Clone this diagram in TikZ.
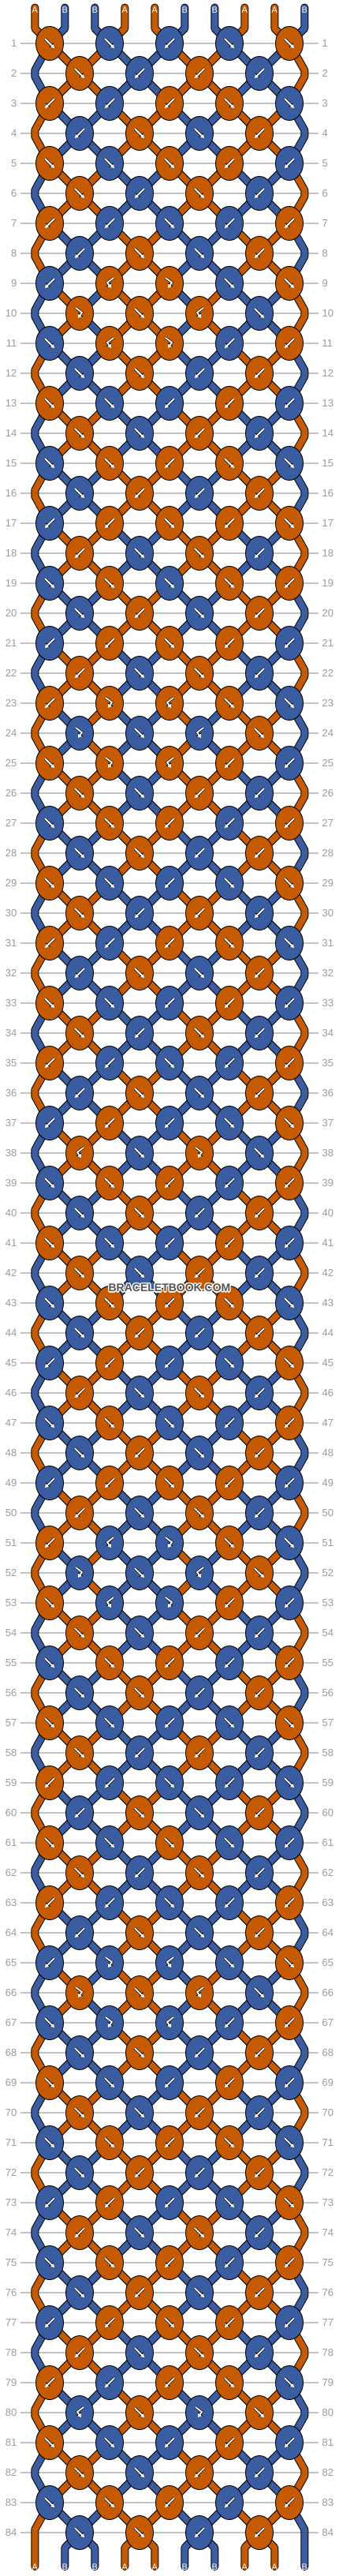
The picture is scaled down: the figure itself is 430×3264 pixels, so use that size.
\documentclass[tikz,border=0pt]{standalone}
\usepackage{fontspec}
\setmainfont{Liberation Sans}
\usetikzlibrary{arrows.meta,shapes.geometric}
\definecolor{cO}{RGB}{197,90,0}
\definecolor{cB}{RGB}{58,93,162}
\definecolor{rowgray}{RGB}{195,195,195}
\definecolor{labgray}{RGB}{155,155,155}
\definecolor{wmgray}{RGB}{85,85,85}
\newcommand\setsc[2]{\expandafter\xdef\csname sc#1\endcsname{#2}}
\newcommand\gsc[1]{\csname sc#1\endcsname}
\newcommand\drawstrand[2]{\draw[sout] #2;\draw[sin,draw=#1] #2;}
\setsc{0}{cO}\setsc{1}{cB}\setsc{2}{cB}\setsc{3}{cO}\setsc{4}{cO}\setsc{5}{cB}\setsc{6}{cB}\setsc{7}{cO}\setsc{8}{cO}\setsc{9}{cB}
\newcommand\rowdata{
1/{1,1,2,1,1},2/{1,2,2,2},3/{2,2,2,1,1},4/{2,1,1,2},5/{1,1,1,2,2},6/{1,2,1,2},
7/{2,2,1,2,2},8/{2,1,1,2},9/{2,4,3,1,1},10/{3,1,4,1},11/{1,4,3,2,2},12/{1,1,2,2},
13/{1,1,2,2,2},14/{1,1,2,2},15/{1,1,2,1,1},16/{1,2,2,2},17/{2,2,1,2,1},18/{2,1,1,2},
19/{1,1,1,1,2},20/{1,2,1,2},21/{2,2,1,2,2},22/{2,1,1,2},23/{2,3,4,1,1},24/{3,1,4,1},
25/{1,3,4,2,2},26/{1,1,2,2},27/{1,1,2,2,2},28/{1,1,2,2},29/{1,1,2,1,1},30/{1,2,2,2},
31/{2,2,2,1,1},32/{2,1,1,2},33/{1,1,2,2,2},34/{1,2,1,2},35/{2,2,1,2,2},36/{2,1,1,2},
37/{2,2,2,1,1},38/{4,1,3,1},39/{1,1,2,2,2},40/{1,1,2,2},41/{1,1,2,2,2},42/{1,1,2,2},
43/{1,1,2,1,1},44/{1,2,2,2},45/{2,2,2,1,1},46/{2,1,1,2},47/{1,1,1,2,2},48/{1,2,1,2},
49/{2,2,1,2,2},50/{2,1,1,2},51/{2,4,3,1,1},52/{3,1,4,1},53/{1,4,3,2,2},54/{1,1,2,2},
55/{1,1,2,2,2},56/{1,1,2,2},57/{1,1,2,1,1},58/{1,2,2,2},59/{2,2,1,2,1},60/{2,1,1,2},
61/{1,1,1,1,2},62/{1,2,1,2},63/{2,2,1,2,2},64/{2,1,1,2},65/{2,3,4,1,1},66/{3,1,4,1},
67/{1,3,4,2,2},68/{1,1,2,2},69/{1,1,2,2,2},70/{1,1,2,2},71/{1,1,2,1,1},72/{1,2,2,2},
73/{2,2,2,1,1},74/{2,1,1,2},75/{1,1,2,2,2},76/{1,2,1,2},77/{2,2,1,2,2},78/{2,1,1,2},
79/{2,2,2,1,1},80/{4,1,3,1},81/{1,1,2,2,2},82/{1,1,2,2},83/{1,1,2,2,2},84/{1,1,2,2}}
\begin{document}
\begin{tikzpicture}[x=1pt,y=-1pt,
  sout/.style={line width=10pt,draw=black,line cap=round,line join=round},
  sin/.style={line width=8pt,line cap=round,line join=round},
  knot/.style={ellipse,draw=black,line width=0.9pt,minimum width=35pt,minimum height=43pt,inner sep=0pt},
  arrb/.style={draw=black,line width=3pt,-{Triangle[length=5.6pt,width=7.4pt]}},
  arrw/.style={draw=white,line width=1.8pt,-{Triangle[length=4.4pt,width=5.4pt]}},
  rowline/.style={draw=rowgray,line width=1.2pt},
  lab/.style={font=\fontsize{13}{13}\selectfont,text=labgray,inner sep=0pt},
  endlab/.style={font=\fontsize{11}{11}\selectfont,text=white,inner sep=0pt},
  wm/.style={font=\fontsize{14}{14}\selectfont\bfseries,inner sep=0pt}]
\useasboundingbox (0,0) rectangle (430,3264);
\fill[white] (0,0) rectangle (430,3264);
% row lines and numbers
\foreach \r in {1,...,84}{%
  \pgfmathsetmacro\y{55+38*(\r-1)}%
  \draw[rowline] (26,\y) -- (404,\y);
  \node[lab,anchor=east] (ll\r) at (21.5,\y) {\r};
  \node[lab,anchor=west] (lr\r) at (408.5,\y) {\r};
}
% pass 1: knot positions, simulation, strands
\foreach \r/\rowtl in \rowdata {%
  \pgfmathsetmacro\y{55+38*(\r-1)}%
  \pgfmathsetmacro\ye{\y-38}%
  \pgfmathtruncatemacro\rA{\r-1}%
  \pgfmathtruncatemacro\rB{\r-2}%
  \foreach \ty [count=\jj from 0] in \rowtl {%
    \pgfmathtruncatemacro\jA{\jj-1}%
    \pgfmathtruncatemacro\jB{\jj+1}%
    \ifodd\r\relax
      \pgfmathsetmacro\x{63+76*\jj}%
      \pgfmathtruncatemacro\pL{2*\jj}%
    \else
      \pgfmathsetmacro\x{101+76*\jj}%
      \pgfmathtruncatemacro\pL{2*\jj+1}%
    \fi
    \pgfmathtruncatemacro\pR{\pL+1}%
    \edef\colL{\gsc{\pL}}\edef\colR{\gsc{\pR}}%
    \ifnum\ty=1\relax\let\kc\colL\fi
    \ifnum\ty=3\relax\let\kc\colL\fi
    \ifnum\ty=2\relax\let\kc\colR\fi
    \ifnum\ty=4\relax\let\kc\colR\fi
    \expandafter\xdef\csname kc\r-\jj\endcsname{\kc}%
    \coordinate (k\r-\jj) at (\x,\y);
    \ifodd\r\relax
      \ifnum\r=1\relax
        \pgfmathsetmacro\xa{44.3+38*\pL}\pgfmathsetmacro\xb{44.3+38*\pR}%
        \drawstrand{\colL}{(\xa,9.5) -- (\xa,36) -- (k\r-\jj)}%
        \drawstrand{\colR}{(\xb,9.5) -- (\xb,36) -- (k\r-\jj)}%
      \else
        \ifnum\jj=0\relax
          \drawstrand{\colL}{(k\rB-0) -- (44.3,\ye-4) -- (44.3,\ye+4) -- (k\r-0)}%
        \else
          \drawstrand{\colL}{(k\rA-\jA) -- (k\r-\jj)}%
        \fi
        \ifnum\jj=4\relax
          \drawstrand{\colR}{(k\rB-4) -- (386.3,\ye-4) -- (386.3,\ye+4) -- (k\r-4)}%
        \else
          \drawstrand{\colR}{(k\rA-\jj) -- (k\r-\jj)}%
        \fi
      \fi
    \else
      \drawstrand{\colL}{(k\rA-\jj) -- (k\r-\jj)}%
      \drawstrand{\colR}{(k\rA-\jB) -- (k\r-\jj)}%
    \fi
    \ifnum\ty<3\relax\setsc{\pL}{\colR}\setsc{\pR}{\colL}\fi
  }%
}
% bottom ends
\edef\colL{\gsc{0}}\drawstrand{\colL}{(k83-0) -- (44.3,3205) -- (44.3,3252)}
\edef\colL{\gsc{9}}\drawstrand{\colL}{(k83-4) -- (386.3,3205) -- (386.3,3252)}
\foreach \p/\kk in {1/0,2/0,3/1,4/1,5/2,6/2,7/3,8/3}{%
  \pgfmathsetmacro\xa{44.3+38*\p}%
  \edef\colL{\gsc{\p}}%
  \drawstrand{\colL}{(k84-\kk) -- (\xa,3228) -- (\xa,3252)}%
}
% pass 2: knots and their symbols
\foreach \r/\rowtl in \rowdata {%
  \foreach \ty [count=\jj from 0] in \rowtl {%
    \edef\kc{\csname kc\r-\jj\endcsname}%
    \node[knot,fill=\kc] (n\r-\jj) at (k\r-\jj) {};
    \begin{scope}[shift={(n\r-\jj.center)}]
    \ifcase\ty\or
      \draw[arrb] (-6,-6) -- (6,6); \draw[arrw] (-6,-6) -- (6,6);
    \or
      \draw[arrb] (6,-6) -- (-6,6); \draw[arrw] (6,-6) -- (-6,6);
    \or
      \draw[arrb] (-5,-7) -- (3,-1) -- (-2,6); \draw[arrw] (-5,-7) -- (3,-1) -- (-2,6);
    \or
      \draw[arrb] (5,-7) -- (-3,-1) -- (2,6); \draw[arrw] (5,-7) -- (-3,-1) -- (2,6);
    \fi
    \end{scope}
  }%
}
% end labels
\foreach \p/\lt in {0/A,1/B,2/B,3/A,4/A,5/B,6/B,7/A,8/A,9/B}{%
  \node[endlab] (ta\p) at ({44.3+38*\p},12.5) {\lt};
  \node[endlab] (ba\p) at ({44.3+38*\p},3252.5) {\lt};
}
% watermark
\foreach \dx/\dy [count=\i] in {-1.2/0,1.2/0,0/-1.2,0/1.2,-1/-1,1/1,-1/1,1/-1}{%
  \node[wm,text=white] (wmh\i) at (215+\dx,1632+\dy) {BRACELETBOOK.COM};
}
\node[wm,text=wmgray] (wm) at (215,1632) {BRACELETBOOK.COM};
\end{tikzpicture}
\end{document}
